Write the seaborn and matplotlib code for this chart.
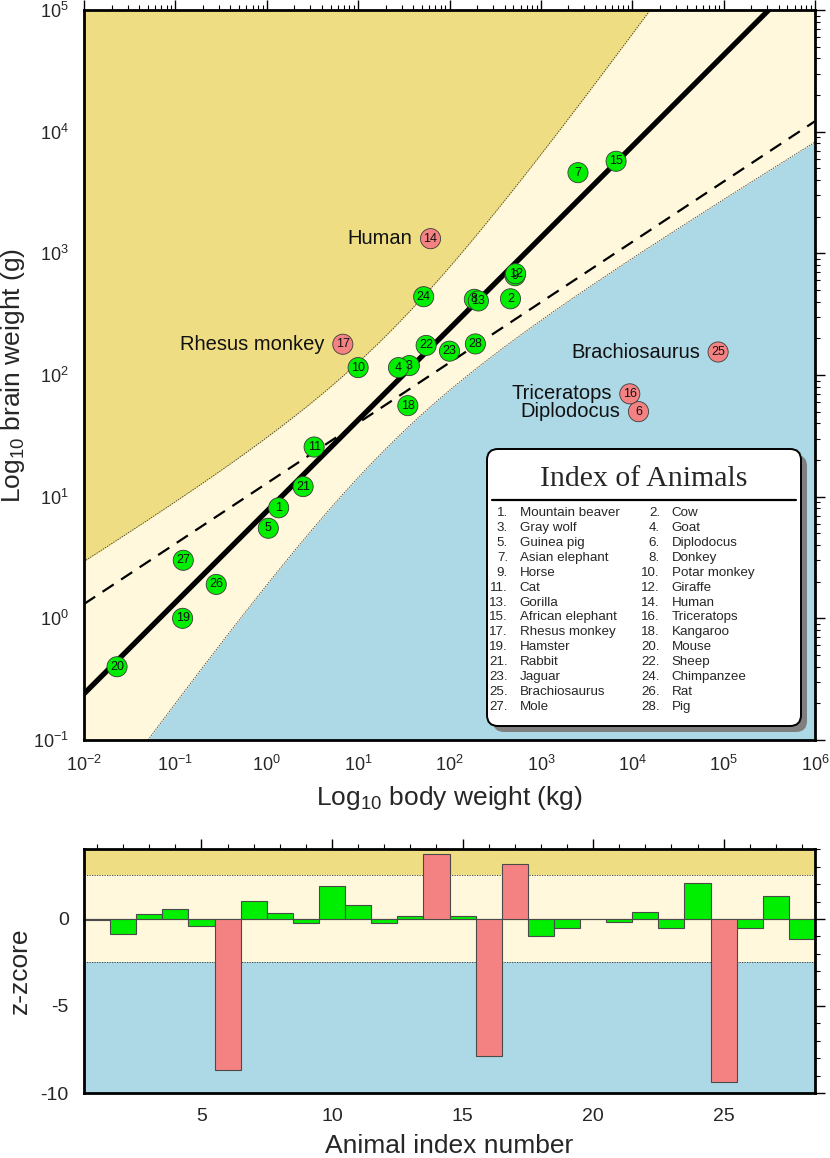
import numpy as np
import pandas as pd
import matplotlib
matplotlib.use("Agg")
import matplotlib.pyplot as plt
import seaborn as sns
from matplotlib.patches import FancyBboxPatch
from matplotlib.ticker import FixedLocator, MultipleLocator, LogLocator, NullFormatter, FixedFormatter

# ---------------- data ----------------
animal_names = ["Mountain beaver", "Cow", "Gray wolf", "Goat", "Guinea pig", "Diplodocus",
                "Asian elephant", "Donkey", "Horse", "Potar monkey", "Cat", "Giraffe",
                "Gorilla", "Human", "African elephant", "Triceratops", "Rhesus monkey",
                "Kangaroo", "Hamster", "Mouse", "Rabbit", "Sheep", "Jaguar", "Chimpanzee",
                "Brachiosaurus", "Rat", "Mole", "Pig"]
body_kg = [1.35, 465, 36.33, 27.66, 1.04, 11700, 2547, 187.1, 521, 10, 3.3, 529,
           207, 62, 6654, 9400, 6.8, 35, 0.12, 0.023, 2.5, 55.5, 100, 52.16,
           87000, 0.28, 0.122, 192]
brain_g = [8.1, 423, 119.5, 115, 5.5, 50, 4603, 419, 655, 115, 25.6, 680,
           406, 1320, 5712, 70, 179, 56, 1, 0.4, 12.1, 175, 157, 440,
           154.5, 1.9, 3, 180]
outlier_ids = [6, 14, 16, 17, 25]
labelled = {14: "Human", 17: "Rhesus monkey", 25: "Brachiosaurus",
            16: "Triceratops", 6: "Diplodocus"}
zscore = [-0.08, -0.84, 0.29, 0.56, -0.42, -8.7, 1.03, 0.33, -0.25, 1.9,
          0.79, -0.21, 0.15, 3.74, 0.19, -7.85, 3.16, -1.0, -0.54, 0.02,
          -0.19, 0.38, -0.54, 2.07, -9.37, -0.54, 1.32, -1.15]

# robust (LMS) fit in log10 space and its band parameters
lms_intercept = 0.88
lms_slope = 0.75
band_a = 0.215
band_b = 0.088
z_limit = 2.5

xlim_top = (1e-2, 1e6)
ylim_top = (1e-1, 1e5)
xtick_exp = [-2, -1, 0, 1, 2, 3, 4, 5, 6]
ytick_exp = [-1, 0, 1, 2, 3, 4, 5]

# ---------------- styling ----------------
GOLD = "#EEDD82"
SILK = "#FFF8DC"
BLUE = "#ADD8E6"
GREEN = "#00EE00"
RED = "#F58282"

sns.set_theme(style="white")
plt.rcParams["font.family"] = ["Liberation Sans", "DejaVu Sans"]
plt.rcParams["mathtext.fontset"] = "custom"
plt.rcParams["mathtext.rm"] = "Liberation Sans"
plt.rcParams["mathtext.it"] = "Liberation Sans:italic"
plt.rcParams["mathtext.default"] = "regular"
plt.rcParams["axes.unicode_minus"] = False

W, H = 830, 1158
fig = plt.figure(figsize=(W / 100, H / 100), dpi=100)
fig.patch.set_facecolor("white")

def px_axes(l, t, r, b):
    return fig.add_axes([l / W, 1 - b / H, (r - l) / W, (b - t) / H])

ax = px_axes(84, 10, 815, 740)
ax2 = px_axes(84, 849, 815, 1093)

df = pd.DataFrame({"id": np.arange(1, 29), "name": animal_names,
                   "body": body_kg, "brain": brain_g, "z": zscore})
df["group"] = np.where(df["id"].isin(outlier_ids), "out", "in")
df["lx"] = np.log10(df["body"])
df["ly"] = np.log10(df["brain"])

# ---------------- top panel ----------------
ax.set_xscale("log")
ax.set_yscale("log")
lx = np.linspace(-2, 6, 600)
center = df.loc[df.group == "in", "lx"].mean()
yline = lms_intercept + lms_slope * lx
half = np.sqrt(band_a + band_b * (lx - center) ** 2)
upper = 10 ** (yline + half)
lower = 10 ** (yline - half)
xs = 10 ** lx
ax.fill_between(xs, 1e-3, 1e7, color=SILK, lw=0, zorder=0)
ax.fill_between(xs, upper, 1e7, color=GOLD, lw=0, zorder=1)
ax.fill_between(xs, 1e-3, lower, color=BLUE, lw=0, zorder=1)
ax.plot(xs, upper, color="#333333", lw=0.6, ls=(0, (1.5, 1.5)), zorder=2)
ax.plot(xs, lower, color="#333333", lw=0.6, ls=(0, (1.5, 1.5)), zorder=2)

# ordinary least squares on all animals (dashed)
ls_slope, ls_int = np.polyfit(df["lx"], df["ly"], 1)
line_df = pd.DataFrame({"x": xs, "lms": 10 ** yline, "ls": 10 ** (ls_int + ls_slope * lx)})
sns.lineplot(data=line_df, x="x", y="ls", ax=ax, color="black", lw=1.6,
             dashes=False, linestyle=(0, (6, 4)), zorder=3)
sns.lineplot(data=line_df, x="x", y="lms", ax=ax, color="black", lw=3.8, zorder=4)

sns.scatterplot(data=df, x="body", y="brain", hue="group",
                palette={"in": GREEN, "out": RED}, s=210, edgecolor="#3a3a3a",
                linewidth=0.6, legend=False, ax=ax, zorder=5)
for _, r in df.iterrows():
    ax.text(r["body"], r["brain"], str(r["id"]), ha="center", va="center",
            fontsize=9, color="#111111", zorder=6)
    if r["id"] in labelled:
        ax.annotate(labelled[r["id"]], (r["body"], r["brain"]), xytext=(-13, 0),
                    textcoords="offset points", ha="right", va="center",
                    fontsize=14.5, color="#111111", zorder=6)

ax.set_xlim(*xlim_top)
ax.set_ylim(*ylim_top)
ax.xaxis.set_major_locator(FixedLocator([10.0 ** e for e in xtick_exp]))
ax.xaxis.set_major_formatter(FixedFormatter([f"$10^{{{e}}}$" for e in xtick_exp]))
ax.yaxis.set_major_locator(FixedLocator([10.0 ** e for e in ytick_exp]))
ax.yaxis.set_major_formatter(FixedFormatter([f"$10^{{{e}}}$" for e in ytick_exp]))
ax.xaxis.set_minor_locator(LogLocator(base=10, subs=np.arange(2, 10), numticks=20))
ax.yaxis.set_minor_locator(LogLocator(base=10, subs=np.arange(2, 10), numticks=20))
ax.xaxis.set_minor_formatter(NullFormatter())
ax.yaxis.set_minor_formatter(NullFormatter())
ax.set_xlabel("Log$_{10}$ body weight (kg)", fontsize=19, labelpad=6)
ax.set_ylabel("Log$_{10}$ brain weight (g)", fontsize=19, labelpad=4)

for a in (ax, ax2):
    a.tick_params(which="both", direction="out", top=True, right=True,
                  labeltop=False, labelright=False, color="black")
    a.tick_params(which="major", length=7, width=1.0, labelsize=13, pad=4)
    a.tick_params(which="minor", length=3.5, width=0.8)
    for s in a.spines.values():
        s.set_linewidth(2.0)
        s.set_color("black")
        s.set_zorder(10)

# ---------------- bottom panel ----------------
ax2.axhspan(z_limit, 10, color=GOLD, lw=0, zorder=0)
ax2.axhspan(-z_limit, z_limit, color=SILK, lw=0, zorder=0)
ax2.axhspan(-20, -z_limit, color=BLUE, lw=0, zorder=0)
ax2.axhline(z_limit, color="#333333", lw=0.6, ls=(0, (1.5, 1.5)), zorder=1)
ax2.axhline(-z_limit, color="#333333", lw=0.6, ls=(0, (1.5, 1.5)), zorder=1)
sns.barplot(data=df, x="id", y="z", hue="group", palette={"in": GREEN, "out": RED},
            native_scale=True, width=1.0, dodge=False, saturation=1,
            edgecolor="#4a4a4a", linewidth=0.8, legend=False, ax=ax2, zorder=3)
ax2.axhline(0, color="#444444", lw=0.8, zorder=2)
ax2.set_xlim(0.5, 28.5)
ax2.set_ylim(-10, 4.02)
ax2.xaxis.set_major_locator(FixedLocator([5, 10, 15, 20, 25]))
ax2.xaxis.set_major_formatter(FixedFormatter(["5", "10", "15", "20", "25"]))
ax2.xaxis.set_minor_locator(MultipleLocator(1))
ax2.yaxis.set_major_locator(FixedLocator([-10, -5, 0]))
ax2.yaxis.set_major_formatter(FixedFormatter(["-10", "-5", "0"]))
ax2.yaxis.set_minor_locator(MultipleLocator(1))
ax2.tick_params(which="major", labelsize=14)
ax2.set_xlabel("Animal index number", fontsize=19, labelpad=6)
ax2.set_ylabel("z-zcore", fontsize=19, labelpad=6)

# ---------------- index box (drawn in pixel space) ----------------
ov = fig.add_axes([0, 0, 1, 1], facecolor="none")
ov.set_xlim(0, W)
ov.set_ylim(H, 0)
ov.axis("off")
bx0, by0, bx1, by1 = 487, 449, 801, 726
ov.add_patch(FancyBboxPatch((bx0 + 6, by0 + 6), bx1 - bx0, by1 - by0,
                            boxstyle="round,pad=0,rounding_size=11",
                            fc="#7f7f7f", ec="none", zorder=20))
ov.add_patch(FancyBboxPatch((bx0, by0), bx1 - bx0, by1 - by0,
                            boxstyle="round,pad=0,rounding_size=11",
                            fc="white", ec="black", lw=1.4, zorder=21))
ov.text((bx0 + bx1) / 2, 479, "Index of Animals", ha="center", va="center",
        fontsize=21.5, family=["Liberation Serif", "DejaVu Serif"], zorder=22)
ov.plot([492, 796], [500, 500], color="black", lw=1.6, zorder=22)
for i, nm in enumerate(animal_names):
    row, col = divmod(i, 2)
    y = 513.5 + row * 14.85
    xn = 508 if col == 0 else 660
    ov.text(xn, y, f"{i + 1}.", ha="right", va="center", fontsize=9.6, zorder=22)
    ov.text(xn + 11.5, y, nm, ha="left", va="center", fontsize=9.6, zorder=22)

fig.savefig("out.png", dpi=100)
